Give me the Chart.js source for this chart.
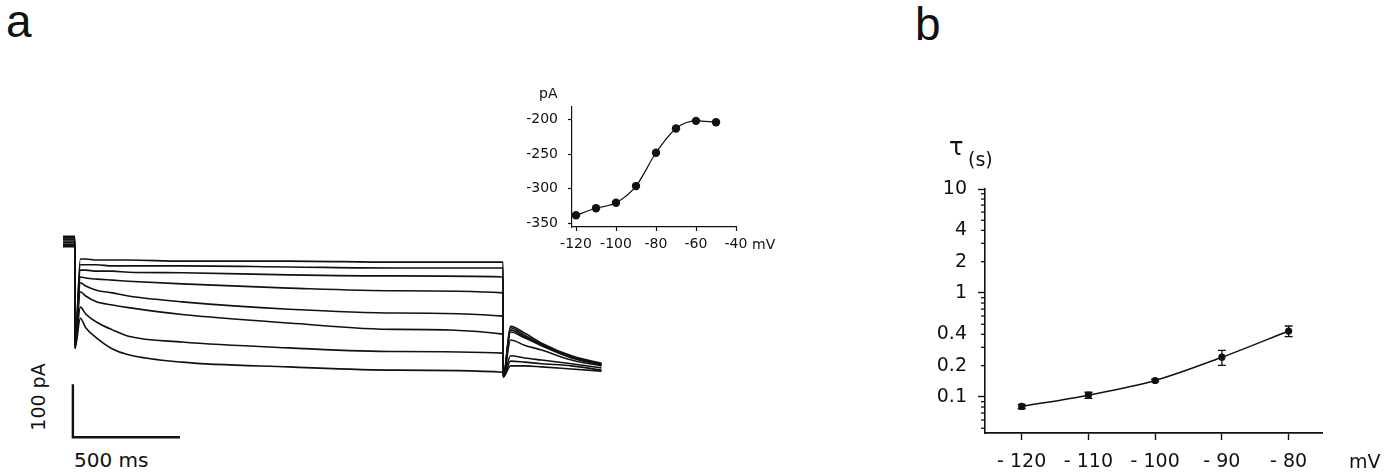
<!DOCTYPE html>
<html>
<head>
<meta charset="utf-8">
<script src="https://cdn.jsdelivr.net/npm/chart.js@4.4.0/dist/chart.umd.min.js"></script>
<style>
  html, body { margin: 0; padding: 0; background: #fff; }
  body { width: 1394px; height: 472px; position: relative; overflow: hidden; font-family: "DejaVu Sans", sans-serif; color: #111; }
  canvas { position: absolute; }
  .lbl { position: absolute; white-space: nowrap; line-height: 1; }
  .letter { font-family: "Liberation Sans", Arial, sans-serif; font-size: 46px; }
</style>
</head>
<body>
<canvas id="traces" width="560" height="225" style="left:55px;top:220px"></canvas>
<canvas id="inset" width="300" height="180" style="left:500px;top:80px"></canvas>
<canvas id="tau" width="494" height="322" style="left:900px;top:150px"></canvas>

<div class="lbl letter" style="left:6px;top:-2px">a</div>
<div class="lbl letter" style="left:915px;top:1px">b</div>
<div class="lbl" style="left:539px;top:86px;font-size:14px">pA</div>
<div class="lbl" style="left:752px;top:237px;font-size:14px">mV</div>
<div class="lbl" style="left:74px;top:450px;font-size:20px">500 ms</div>
<div class="lbl" style="left:38px;top:397px;font-size:19px;transform:translate(-50%,-50%) rotate(-90deg)">100 pA</div>
<div class="lbl" style="left:949px;top:135px;font-size:24px">τ</div>
<div class="lbl" style="left:968px;top:150px;font-size:19px">(s)</div>
<div class="lbl" style="left:1349px;top:452px;font-size:19px">mV</div>

<script>
// ---- panel a: current traces (ms, pA) ----
const pulseTimes = [25, 50, 100, 175, 250, 500, 1000, 1500, 2000];
const tailTimes = [2035, 2100, 2180, 2320, 2460];
const holdLevels = [26, 23, 20, 17, 14, 11, 9, 6];
const stepOnLevel = -185;
const stepOffLevel = -240;

const pulse1 = [-17, -17, -19, -19, -19, -21, -21, -23, -23];
const pulse2 = [-28, -28, -28, -30, -30, -30, -32, -34, -34];
const pulse3 = [-38, -38, -40, -40, -42, -43, -47, -49, -51];
const pulse4 = [-51, -53, -55, -57, -59, -64, -72, -77, -81];
const pulse5 = [-62, -68, -76, -81, -87, -98, -112, -119, -125];
const pulse6 = [-79, -87, -98, -104, -109, -122, -138, -150, -159];
const pulse7 = [-108, -121, -136, -151, -163, -174, -185, -192, -195];
const pulse8 = [-129, -147, -166, -187, -198, -212, -221, -227, -231];

const tail1 = [-219, -219, -221, -225, -229];
const tail2 = [-210, -212, -215, -219, -227];
const tail3 = [-200, -204, -208, -215, -223];
const tail4 = [-170, -180, -189, -208, -219];
const tail5 = [-155, -166, -181, -204, -217];
const tail6 = [-151, -164, -180, -202, -217];
const tail7 = [-147, -161, -178, -202, -215];
const tail8 = [-144, -157, -176, -200, -214];

const scaleBarTime = 500;   // ms
const scaleBarCurrent = 100; // pA

// ---- panel a inset: I-V ----
const insetVoltages = [-120, -110, -100, -90, -80, -70, -60, -50];
const insetCurrents = [-338, -328, -320, -296, -248, -213, -202, -204];
const insetXTicks = [-120, -100, -80, -60, -40];
const insetYTicks = [-350, -300, -250, -200];

// ---- panel b: tau vs voltage ----
const tauVoltages = [-120, -110, -100, -90, -80];
const tauValues = [0.081, 0.104, 0.144, 0.241, 0.431];
const tauErrors = [0.004, 0.007, 0.004, 0.04, 0.05];
const tauXTicks = [-120, -110, -100, -90, -80];
const tauLabelTicks = [0.1, 0.2, 0.4, 1, 2, 4, 10];
const tauDecades = [0.1, 1, 10];
const tauMinorTicks = [0.05, 0.06, 0.07, 0.08, 0.09, 0.3, 0.5, 0.6, 0.7, 0.8, 0.9, 3, 5, 6, 7, 8, 9];

const INK = '#111';
const FONT = 'DejaVu Sans';

const pulses = [pulse1, pulse2, pulse3, pulse4, pulse5, pulse6, pulse7, pulse8];
const tails = [tail1, tail2, tail3, tail4, tail5, tail6, tail7, tail8];

function buildTrace(i) {
  const pts = [{x: -56, y: holdLevels[i]}, {x: -0.5, y: holdLevels[i]}, {x: 0, y: stepOnLevel}];
  pulseTimes.forEach((t, j) => pts.push({x: t, y: pulses[i][j]}));
  pts.push({x: 2001, y: stepOffLevel});
  tailTimes.forEach((t, j) => pts.push({x: t, y: tails[i][j]}));
  return pts;
}

const scaleBar = {
  id: 'scaleBar',
  afterDraw(chart) {
    const xs = chart.scales.x, ys = chart.scales.y, ctx = chart.ctx;
    const t0 = -10, i0 = -354;
    ctx.save();
    ctx.strokeStyle = INK;
    ctx.lineWidth = 2.4;
    ctx.beginPath();
    ctx.moveTo(xs.getPixelForValue(t0), ys.getPixelForValue(i0 + scaleBarCurrent));
    ctx.lineTo(xs.getPixelForValue(t0), ys.getPixelForValue(i0));
    ctx.lineTo(xs.getPixelForValue(t0 + scaleBarTime), ys.getPixelForValue(i0));
    ctx.stroke();
    ctx.restore();
  }
};

new Chart(document.getElementById('traces'), {
  type: 'line',
  data: {
    datasets: pulses.map((p, i) => ({
      data: buildTrace(i),
      borderColor: INK,
      borderWidth: 1.6,
      pointRadius: 0,
      cubicInterpolationMode: 'monotone',
      fill: false
    }))
  },
  options: {
    responsive: false, animation: false, events: [],
    layout: {padding: 0},
    plugins: {legend: {display: false}, tooltip: {enabled: false}},
    scales: {
      x: {type: 'linear', display: false, min: -93.5, max: 2523},
      y: {type: 'linear', display: false, min: -368.6, max: 56.7}
    }
  },
  plugins: [scaleBar]
});

new Chart(document.getElementById('inset'), {
  type: 'line',
  data: {
    datasets: [{
      data: insetVoltages.map((v, i) => ({x: v, y: insetCurrents[i]})),
      borderColor: INK, backgroundColor: INK,
      borderWidth: 1.2, pointRadius: 4.2, pointBorderWidth: 0,
      cubicInterpolationMode: 'monotone', fill: false
    }]
  },
  options: {
    responsive: false, animation: false, events: [],
    layout: {padding: {top: 27, right: 64, bottom: 0, left: 0}},
    plugins: {legend: {display: false}, tooltip: {enabled: false}},
    scales: {
      x: {
        type: 'linear', min: -122, max: -40,
        afterBuildTicks: s => { s.ticks = insetXTicks.map(v => ({value: v})); },
        afterFit: s => { s.height = 33; },
        grid: {drawOnChartArea: false, tickLength: 4, tickColor: INK, tickWidth: 1.2},
        border: {color: INK, width: 1.2},
        ticks: {color: INK, font: {family: FONT, size: 14}, padding: 5, maxRotation: 0, autoSkip: false}
      },
      y: {
        type: 'linear', min: -355, max: -182,
        afterBuildTicks: s => { s.ticks = insetYTicks.map(v => ({value: v})); },
        afterFit: s => { s.width = 72; },
        grid: {drawOnChartArea: false, tickLength: 4, tickColor: INK, tickWidth: 1.2},
        border: {color: INK, width: 1.2},
        ticks: {color: INK, font: {family: FONT, size: 14}, padding: 10, autoSkip: false}
      }
    }
  }
});

const tauExtras = {
  id: 'tauExtras',
  afterDatasetsDraw(chart) {
    const xs = chart.scales.x, ys = chart.scales.y, ctx = chart.ctx;
    ctx.save();
    ctx.strokeStyle = INK;
    ctx.lineWidth = 1.3;
    // minor ticks on the log axis
    tauMinorTicks.concat(tauLabelTicks.filter(v => !tauDecades.includes(v))).forEach(v => {
      const y = ys.getPixelForValue(v);
      ctx.beginPath();
      ctx.moveTo(xs.left - 4, y);
      ctx.lineTo(xs.left, y);
      ctx.stroke();
    });
    // error bars
    tauVoltages.forEach((v, i) => {
      const x = xs.getPixelForValue(v);
      const yTop = ys.getPixelForValue(tauValues[i] + tauErrors[i]);
      const yBot = ys.getPixelForValue(tauValues[i] - tauErrors[i]);
      ctx.beginPath();
      ctx.moveTo(x, yTop); ctx.lineTo(x, yBot);
      ctx.moveTo(x - 4, yTop); ctx.lineTo(x + 4, yTop);
      ctx.moveTo(x - 4, yBot); ctx.lineTo(x + 4, yBot);
      ctx.stroke();
    });
    ctx.restore();
  }
};

new Chart(document.getElementById('tau'), {
  type: 'line',
  data: {
    datasets: [{
      data: tauVoltages.map((v, i) => ({x: v, y: tauValues[i]})),
      borderColor: INK, backgroundColor: INK,
      borderWidth: 1.5, pointRadius: 3.6, pointBorderWidth: 0,
      cubicInterpolationMode: 'monotone', fill: false
    }]
  },
  options: {
    responsive: false, animation: false, events: [],
    layout: {padding: {top: 39, right: 72, bottom: 0, left: 0}},
    plugins: {legend: {display: false}, tooltip: {enabled: false}},
    scales: {
      x: {
        type: 'linear', min: -125.5, max: -75,
        afterBuildTicks: s => { s.ticks = tauXTicks.map(v => ({value: v})); },
        afterFit: s => { s.height = 39; },
        grid: {drawOnChartArea: false, tickLength: 7, tickColor: INK, tickWidth: 1.4},
        border: {color: INK, width: 1.8},
        ticks: {
          color: INK, font: {family: FONT, size: 19}, padding: 11, maxRotation: 0, autoSkip: false,
          callback: v => '- ' + Math.abs(v)
        }
      },
      y: {
        type: 'logarithmic', min: 0.045, max: 10,
        afterBuildTicks: s => {
          s.ticks = tauMinorTicks.concat(tauLabelTicks).sort((a, b) => a - b).map(v => ({value: v}));
        },
        afterFit: s => { s.width = 85; },
        grid: {
          drawOnChartArea: false, tickLength: 7, tickWidth: 1.4,
          tickColor: c => (c.tick && tauDecades.includes(c.tick.value)) ? INK : 'rgba(0,0,0,0)'
        },
        border: {color: INK, width: 1.6},
        ticks: {
          color: INK, font: {family: FONT, size: 19}, padding: 11, autoSkip: false,
          callback: v => tauLabelTicks.includes(v) ? String(v) : ''
        }
      }
    }
  },
  plugins: [tauExtras]
});
</script>
</body>
</html>
